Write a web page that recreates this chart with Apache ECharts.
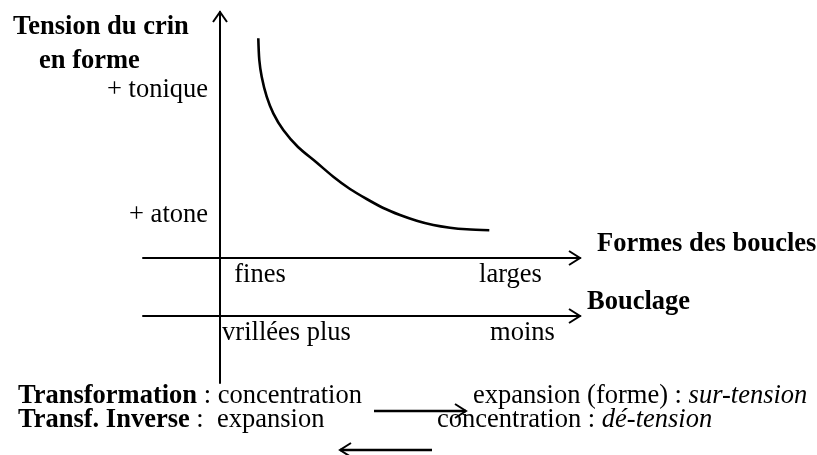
<!DOCTYPE html>
<html>
<head>
<meta charset="utf-8">
<script src="https://cdn.jsdelivr.net/npm/echarts@6/dist/echarts.min.js"></script>
<style>html,body{margin:0;padding:0;background:#fff}#c{width:817px;height:455px}</style>
</head>
<body>
<div id="c"></div>
<script>
// Curve: tension vs. loop shape (conceptual units)
var curveX = [3.83, 3.93, 4.17, 4.67, 5.33, 6.33, 7.8, 9.6, 11.33, 13.0, 14.67, 16.33, 18.0, 19.67, 21.33, 23.0, 24.67, 26.93];
var curveY = [21.97, 19.8, 18.13, 16.13, 14.47, 12.8, 11.1, 9.6, 8.13, 6.9, 5.9, 5.0, 4.3, 3.73, 3.3, 3.03, 2.87, 2.77];
// Tick labels
var yTickValues = [16.8, 4.3];
var yTickLabels = ['+ tonique', '+ atone'];
var xTickValues = [4.0, 29.05];
var xTickLabels = ['fines', 'larges'];
var x2TickValues = [6.65, 30.25];
var x2TickLabels = ['vrillées plus', 'moins'];
var yTitle = ['Tension du crin', 'en forme'];
var xName = 'Formes des boucles';
var x2Name = 'Bouclage';

var FONT = "'Liberation Serif', 'Times New Roman', serif";
var FS = 26.5;
function lookup(vals, labels) {
  return function (v) {
    for (var i = 0; i < vals.length; i++) if (Math.abs(vals[i] - v) < 1e-6) return labels[i];
    return '';
  };
}
var chart = echarts.init(document.getElementById('c'), null, {renderer: 'canvas'});
var axisLineStyle = {color: '#000', width: 2};
var chev = {stroke: '#000', lineWidth: 2, fill: null};
chart.setOption({
  animation: false,
  backgroundColor: '#fff',
  grid: [
    {left: 143, right: 237, top: 12, bottom: 72, containLabel: false, outerBoundsMode: 'none'},
    {left: 143, right: 237, top: 200, bottom: 139, containLabel: false, outerBoundsMode: 'none'}
  ],
  xAxis: [
    {
      type: 'value', gridIndex: 0, min: -7.7, max: 36, position: 'bottom', offset: -125,
      axisLine: {show: true, onZero: false, lineStyle: axisLineStyle},
      axisTick: {show: false}, splitLine: {show: false},
      axisLabel: {show: true, customValues: xTickValues, formatter: lookup(xTickValues, xTickLabels),
        color: '#000', fontFamily: FONT, fontSize: FS, margin: 4},
      name: xName, nameLocation: 'end', nameGap: 17,
      nameTextStyle: {color: '#000', fontFamily: FONT, fontSize: FS, fontWeight: 'bold', verticalAlign: 'bottom', align: 'left'}
    },
    {
      type: 'value', gridIndex: 1, min: -7.7, max: 36, position: 'bottom',
      axisLine: {show: true, onZero: false, lineStyle: axisLineStyle},
      axisTick: {show: false}, splitLine: {show: false},
      axisLabel: {show: true, customValues: x2TickValues, formatter: lookup(x2TickValues, x2TickLabels),
        color: '#000', fontFamily: FONT, fontSize: FS, margin: 4},
      name: x2Name, nameLocation: 'end', nameGap: 7,
      nameTextStyle: {color: '#000', fontFamily: FONT, fontSize: FS, fontWeight: 'bold', verticalAlign: 'bottom', align: 'left'}
    }
  ],
  yAxis: [
    {
      type: 'value', gridIndex: 0, min: -12.5, max: 24.6, position: 'left', offset: -77,
      axisLine: {show: true, onZero: false, lineStyle: axisLineStyle},
      axisTick: {show: false}, splitLine: {show: false},
      axisLabel: {show: true, customValues: yTickValues, formatter: lookup(yTickValues, yTickLabels),
        color: '#000', fontFamily: FONT, fontSize: FS, margin: 12}
    },
    {type: 'value', gridIndex: 1, show: false, min: 0, max: 1}
  ],
  series: [{
    type: 'line', xAxisIndex: 0, yAxisIndex: 0,
    data: curveX.map(function (x, i) { return [x, curveY[i]]; }),
    smooth: 0.3, showSymbol: false, silent: true,
    lineStyle: {color: '#000', width: 2.6}
  }],
  graphic: [
    {type: 'text', left: 13, top: 14, style: {text: yTitle[0], font: 'bold ' + FS + 'px ' + FONT, fill: '#000'}},
    {type: 'text', left: 39, top: 48, style: {text: yTitle[1], font: 'bold ' + FS + 'px ' + FONT, fill: '#000'}},
    // arrowheads
    {type: 'polyline', shape: {points: [[213, 22], [220, 12], [227, 22]]}, style: chev},
    {type: 'polyline', shape: {points: [[569, 251], [580, 258], [569, 265]]}, style: chev},
    {type: 'polyline', shape: {points: [[569, 309], [580, 316], [569, 323]]}, style: chev},
    // transformation arrows
    {type: 'line', shape: {x1: 374, y1: 411, x2: 466, y2: 411}, style: {stroke: '#000', lineWidth: 2.5}},
    {type: 'polyline', shape: {points: [[455, 404], [466, 411], [455, 418]]}, style: chev},
    {type: 'line', shape: {x1: 340, y1: 450, x2: 432, y2: 450}, style: {stroke: '#000', lineWidth: 2.5}},
    {type: 'polyline', shape: {points: [[351, 443], [340, 450], [351, 457]]}, style: chev},
    // bottom text
    {type: 'text', left: 18, top: 383, style: {
      rich: {b: {fontFamily: FONT, fontSize: FS, fontWeight: 'bold', fill: '#000'}, n: {fontFamily: FONT, fontSize: FS, fill: '#000'}},
      text: '{b|Transformation}{n| : concentration}'}},
    {type: 'text', left: 473, top: 383, style: {
      rich: {n: {fontFamily: FONT, fontSize: FS, fill: '#000'}, i: {fontFamily: FONT, fontSize: FS, fontStyle: 'italic', fill: '#000'}},
      text: '{n|expansion (forme) : }{i|sur-tension}'}},
    {type: 'text', left: 18, top: 407, style: {
      rich: {b: {fontFamily: FONT, fontSize: FS, fontWeight: 'bold', fill: '#000'}, n: {fontFamily: FONT, fontSize: FS, fill: '#000'}},
      text: '{b|Transf. Inverse}{n| :  expansion}'}},
    {type: 'text', left: 437, top: 407, style: {
      rich: {n: {fontFamily: FONT, fontSize: FS, fill: '#000'}, i: {fontFamily: FONT, fontSize: FS, fontStyle: 'italic', fill: '#000'}},
      text: '{n|concentration : }{i|dé-tension}'}}
  ]
});
</script>
</body>
</html>
